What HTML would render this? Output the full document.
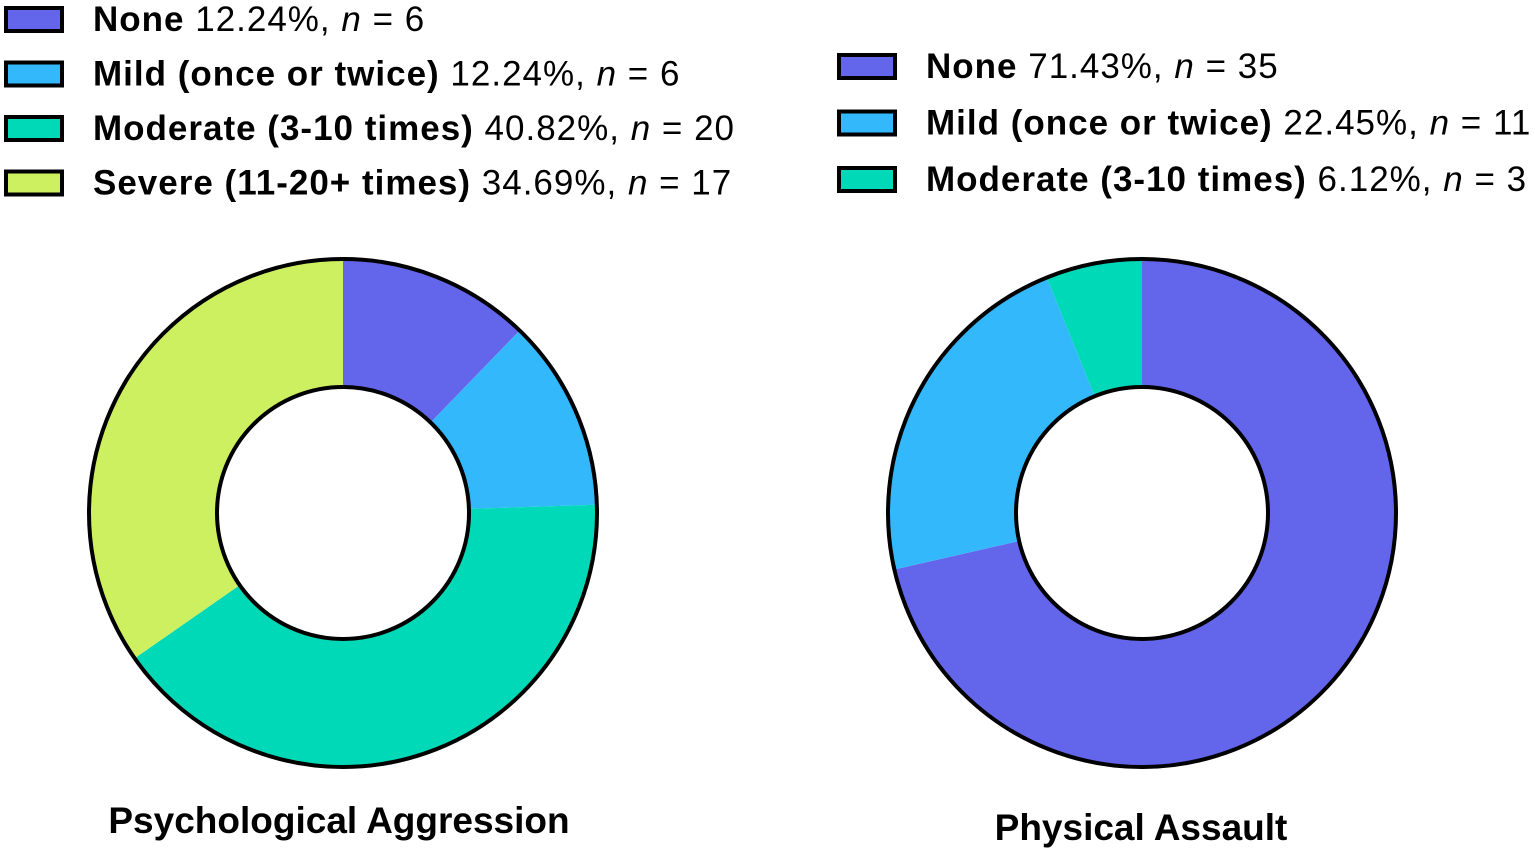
<!DOCTYPE html>
<html><head><meta charset="utf-8">
<style>
html,body{margin:0;padding:0;background:#fff;}
svg{display:block;font-family:"Liberation Sans",Arial,sans-serif;}
</style></head>
<body>
<svg id="c" width="1535" height="850" viewBox="0 0 1535 850"></svg>
<script>
const leftLabels = ["None","Mild (once or twice)","Moderate (3-10 times)","Severe (11-20+ times)"];
const leftValues = [12.24, 12.24, 40.82, 34.69];
const leftCounts = [6, 6, 20, 17];
const rightLabels = ["None","Mild (once or twice)","Moderate (3-10 times)"];
const rightValues = [71.43, 22.45, 6.12];
const rightCounts = [35, 11, 3];
const colors = ["#6366EA","#33B8FC","#00D9B8","#CDF060"];
const NS = "http://www.w3.org/2000/svg";
const svg = document.getElementById('c');
function mk(tag, attrs, parent){const e=document.createElementNS(NS,tag);for(const k in attrs)e.setAttribute(k,attrs[k]);(parent||svg).appendChild(e);return e;}
function pt(cx,cy,r,a){return [cx+r*Math.sin(a), cy-r*Math.cos(a)];}
function donut(cx,cy,ro,ri,values,name){
  const g=mk('g',{});
  
  
  const tot=values.reduce((a,b)=>a+b,0);
  let a0=0;
  values.forEach((v,i)=>{
    const a1=a0+v/tot*2*Math.PI;
    const lg=(a1-a0)>Math.PI?1:0;
    const p1=pt(cx,cy,ro,a0),p2=pt(cx,cy,ro,a1),p3=pt(cx,cy,ri,a1),p4=pt(cx,cy,ri,a0);
    const d=`M${p1[0]},${p1[1]} A${ro},${ro} 0 ${lg} 1 ${p2[0]},${p2[1]} L${p3[0]},${p3[1]} A${ri},${ri} 0 ${lg} 0 ${p4[0]},${p4[1]} Z`;
    const p=mk('path',{d:d,fill:colors[i]},g);
    
    
    a0=a1;
  });
  mk('circle',{cx:cx,cy:cy,r:ro,fill:'none',stroke:'#000','stroke-width':4},g);
  mk('circle',{cx:cx,cy:cy,r:ri,fill:'#fff',stroke:'#000','stroke-width':4},g);
}
function legend(x,y0,dy,labels,values,counts,name){
  labels.forEach((l,i)=>{
    const y=y0+i*dy;
    const r=mk('rect',{x:x,y:y-11,width:56,height:23,fill:colors[i],stroke:'#000','stroke-width':4});
    
    
    const t=mk('text',{x:x+87,y:y+12,'font-size':35,'letter-spacing':1,fill:'#000'});
    
    
    t.innerHTML=`<tspan font-weight="bold">${l}</tspan> ${values[i].toFixed(2)}%, <tspan font-style="italic">n</tspan> = ${counts[i]}`;
  });
}
legend(6,19,54.5,leftLabels,leftValues,leftCounts,'left-legend');
legend(839,66,56.5,rightLabels,rightValues,rightCounts,'right-legend');
donut(343,513,254,126,leftValues,'psychological-aggression-donut');
donut(1142,513,254,126,rightValues,'physical-assault-donut');
let t1=mk('text',{x:339,y:833,'text-anchor':'middle','font-size':37,'font-weight':'bold'});


t1.textContent='Psychological Aggression';
let t2=mk('text',{x:1141,y:840,'text-anchor':'middle','font-size':37,'font-weight':'bold'});


t2.textContent='Physical Assault';
</script>
</body></html>
